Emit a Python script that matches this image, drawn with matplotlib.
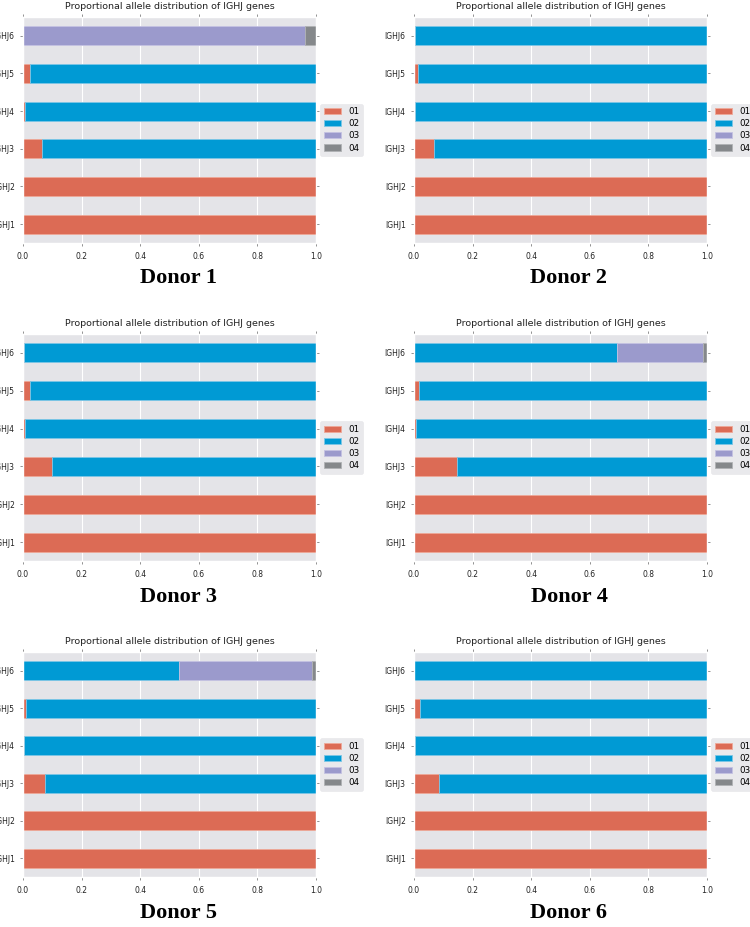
import matplotlib
matplotlib.use("Agg")
import matplotlib.pyplot as plt
import numpy as np

plt.style.use("ggplot")

genes = ["IGHJ1", "IGHJ2", "IGHJ3", "IGHJ4", "IGHJ5", "IGHJ6"]
alleles = ["01", "02", "03", "04"]
donors = ["Donor 1", "Donor 2", "Donor 3", "Donor 4", "Donor 5", "Donor 6"]

# proportions per allele, one list per gene order above
donor1_01 = [1.0, 1.0, 0.065, 0.006, 0.023, 0.0]
donor1_02 = [0.0, 0.0, 0.935, 0.994, 0.977, 0.0]
donor1_03 = [0.0, 0.0, 0.0, 0.0, 0.0, 0.963]
donor1_04 = [0.0, 0.0, 0.0, 0.0, 0.0, 0.037]

donor2_01 = [1.0, 1.0, 0.068, 0.005, 0.015, 0.002]
donor2_02 = [0.0, 0.0, 0.932, 0.995, 0.985, 0.998]
donor2_03 = [0.0, 0.0, 0.0, 0.0, 0.0, 0.0]
donor2_04 = [0.0, 0.0, 0.0, 0.0, 0.0, 0.0]

donor3_01 = [1.0, 1.0, 0.098, 0.007, 0.024, 0.003]
donor3_02 = [0.0, 0.0, 0.902, 0.993, 0.976, 0.997]
donor3_03 = [0.0, 0.0, 0.0, 0.0, 0.0, 0.0]
donor3_04 = [0.0, 0.0, 0.0, 0.0, 0.0, 0.0]

donor4_01 = [1.0, 1.0, 0.148, 0.008, 0.018, 0.0]
donor4_02 = [0.0, 0.0, 0.852, 0.992, 0.982, 0.692]
donor4_03 = [0.0, 0.0, 0.0, 0.0, 0.0, 0.293]
donor4_04 = [0.0, 0.0, 0.0, 0.0, 0.0, 0.015]

donor5_01 = [1.0, 1.0, 0.074, 0.004, 0.010, 0.0]
donor5_02 = [0.0, 0.0, 0.926, 0.996, 0.990, 0.533]
donor5_03 = [0.0, 0.0, 0.0, 0.0, 0.0, 0.453]
donor5_04 = [0.0, 0.0, 0.0, 0.0, 0.0, 0.014]

donor6_01 = [1.0, 1.0, 0.086, 0.004, 0.019, 0.001]
donor6_02 = [0.0, 0.0, 0.914, 0.996, 0.981, 0.999]
donor6_03 = [0.0, 0.0, 0.0, 0.0, 0.0, 0.0]
donor6_04 = [0.0, 0.0, 0.0, 0.0, 0.0, 0.0]

data = [
    [donor1_01, donor1_02, donor1_03, donor1_04],
    [donor2_01, donor2_02, donor2_03, donor2_04],
    [donor3_01, donor3_02, donor3_03, donor3_04],
    [donor4_01, donor4_02, donor4_03, donor4_04],
    [donor5_01, donor5_02, donor5_03, donor5_04],
    [donor6_01, donor6_02, donor6_03, donor6_04],
]

colors = ["#dc6b55", "#009ad4", "#9b9acc", "#85888b"]
edges = ["#eea898", "#7cc6e6", "#c4c2e2", "#b0b2b4"]

fig = plt.figure(figsize=(7.5, 9.27), dpi=100)

lefts = [0.0307, 0.552]
bottoms = [0.7379, 0.3948, 0.0539]
heights = [0.2438, 0.2449, 0.2427]
label_y = [1 - 278 / 927, 1 - 597 / 927, 1 - 913 / 927]
label_x = [178 / 750, 569 / 750]

for k in range(6):
    row = k // 2
    col = k % 2
    ax = fig.add_axes([lefts[col], bottoms[row], 0.3907, heights[row]])
    y = np.arange(len(genes))
    left = np.zeros(len(genes))
    for i in range(4):
        vals = np.array(data[k][i])
        ax.barh(y, vals, height=0.5, left=left, color=colors[i],
                edgecolor=edges[i], linewidth=0.6, label=alleles[i])
        left += vals
    ax.set_xlim(0, 1.0)
    ax.set_ylim(-0.5, 5.5)
    ax.set_yticks(y)
    ax.set_yticklabels(genes)
    ax.set_xticks([0.0, 0.2, 0.4, 0.6, 0.8, 1.0])
    ax.tick_params(axis="both", labelsize=5.5, colors="#666666",
                   top=True, right=True, length=2.5, width=0.5)
    ax.tick_params(axis="x", pad=4)
    ax.tick_params(labelcolor="#222222")
    ax.set_facecolor("#e4e4e8")
    ax.grid(True, color="white", linewidth=0.8)
    ax.set_axisbelow(True)
    ax.set_title("Proportional allele distribution of IGHJ genes",
                 fontsize=6.8, color="#222222", pad=6)
    leg = ax.legend(loc="center left", bbox_to_anchor=(1.0, 0.5),
                    fontsize=6.3, frameon=True, handlelength=2.0,
                    borderpad=0.4, labelspacing=0.35)
    leg.get_frame().set_facecolor("#e4e4e8")
    leg.get_frame().set_edgecolor("#e4e4e8")
    fig.text(label_x[col], label_y[row], donors[k], ha="center", va="center",
             fontsize=16, fontweight="bold", family="Liberation Serif")

fig.savefig("out.png", dpi=100)
